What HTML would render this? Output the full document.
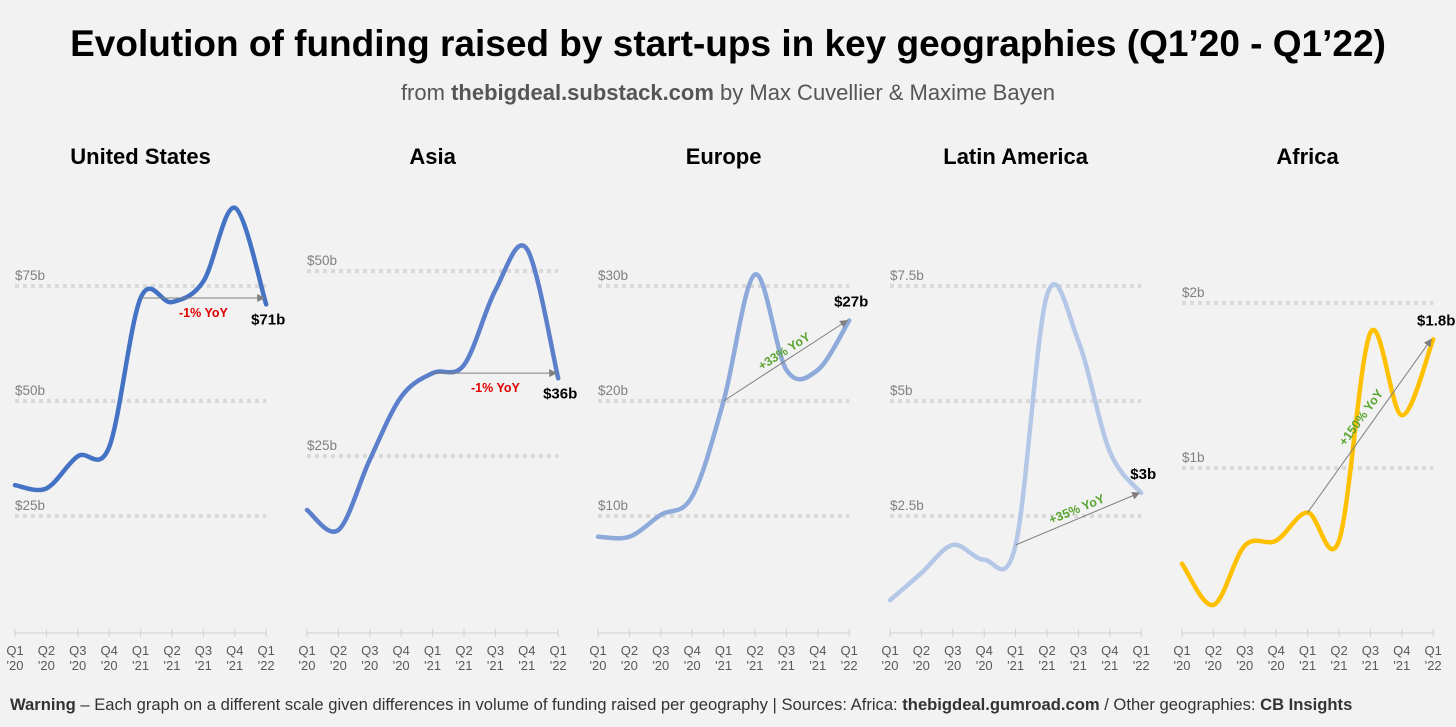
<!DOCTYPE html>
<html><head><meta charset="utf-8">
<style>
body{margin:0;background:#f2f2f2;}
svg{display:block;font-family:"Liberation Sans",sans-serif;}
</style></head>
<body>
<svg id="c" width="1456" height="727" viewBox="0 0 1456 727">
<rect width="1456" height="727" fill="#f2f2f2"/>
<text x="728" y="56" text-anchor="middle" font-size="37" font-weight="bold" fill="#000">Evolution of funding raised by start-ups in key geographies (Q1’20 - Q1’22)</text>
<text x="728" y="100" text-anchor="middle" font-size="22" fill="#555">from <tspan font-weight="bold">thebigdeal.substack.com</tspan> by Max Cuvellier &amp; Maxime Bayen</text>
<text x="10" y="710" font-size="16.6" fill="#333"><tspan font-weight="bold">Warning</tspan> – Each graph on a different scale given differences in volume of funding raised per geography  | Sources: Africa: <tspan font-weight="bold">thebigdeal.gumroad.com</tspan> / Other geographies: <tspan font-weight="bold">CB Insights</tspan></text>
<g id="panels"></g>
</svg>
<script>
const quarters = ["Q1|'20","Q2|'20","Q3|'20","Q4|'20","Q1|'21","Q2|'21","Q3|'21","Q4|'21","Q1|'22"];
const regions = ["United States","Asia","Europe","Latin America","Africa"];
const usValues = [31.7,31,38,40,72.4,71.5,76,92,71];
const asiaValues = [17.7,15,24.5,33,36.2,37.3,47.4,53,35.5];
const europeValues = [8.2,8.2,10.1,11.7,20,31,22.7,22.7,27];
const latamValues = [0.67,1.26,1.87,1.55,1.87,7.3,6.3,3.9,3.0];
const africaValues = [0.42,0.17,0.53,0.56,0.73,0.56,1.82,1.32,1.78];
const seriesValues = [usValues,asiaValues,europeValues,latamValues,africaValues];
const tickValues = [[25,50,75],[25,50],[10,20,30],[2.5,5,7.5],[1,2]];
const tickLabels = [["$25b","$50b","$75b"],["$25b","$50b"],["$10b","$20b","$30b"],["$2.5b","$5b","$7.5b"],["$1b","$2b"]];
const endLabels = ["$71b","$36b","$27b","$3b","$1.8b"];
const yoyLabels = ["-1% YoY","-1% YoY","+33% YoY","+35% YoY","+150% YoY"];

const colors=["#4472c4","#5b7fcb","#8eaadb","#b4c7e7","#ffc000"];
const x0s=[15,307,598,890,1182], step=31.4;
const scales=[[631,4.6],[641,7.4],[631,11.5],[631,46],[633,165]];
const NS="http://www.w3.org/2000/svg";
const root=document.getElementById('panels');
function mk(tag,attrs,parent){const e=document.createElementNS(NS,tag);for(const k in attrs)e.setAttribute(k,attrs[k]);(parent||root).appendChild(e);return e;}
function spline(pts){let d=`M${pts[0][0]},${pts[0][1]}`;for(let i=0;i<pts.length-1;i++){const p0=pts[Math.max(i-1,0)],p1=pts[i],p2=pts[i+1],p3=pts[Math.min(i+2,pts.length-1)];const t=6;d+=` C${p1[0]+(p2[0]-p0[0])/t},${p1[1]+(p2[1]-p0[1])/t} ${p2[0]-(p3[0]-p1[0])/t},${p2[1]-(p3[1]-p1[1])/t} ${p2[0]},${p2[1]}`;}return d;}
const defs=mk('defs',{});
const mkr=mk('marker',{id:'ah',markerWidth:8,markerHeight:8,refX:7,refY:4,orient:'auto',markerUnits:'userSpaceOnUse'},defs);
mk('path',{d:'M0,0 L8,4 L0,8 z',fill:'#7f7f7f'},mkr);

regions.forEach((r,p)=>{
  const g=mk('g',{});
  
  
  const xs=i=>x0s[p]+i*step;
  const ys=v=>scales[p][0]-v*scales[p][1];
  const t=mk('text',{x:xs(4),y:164,'text-anchor':'middle','font-size':22,'font-weight':'bold',fill:'#000'},g);
  t.textContent=r;
  
  
  tickValues[p].forEach((v,k)=>{
    const gl=mk('line',{x1:xs(0),x2:xs(8),y1:ys(v),y2:ys(v),stroke:'#d9d9d9','stroke-width':4,'stroke-dasharray':'4 4'},g);
    
    
    const tl=mk('text',{x:xs(0),y:ys(v)-6,'font-size':13.5,fill:'#808080'},g);
    tl.textContent=tickLabels[p][k];
    
    
  });
  const ax=mk('line',{x1:xs(0),x2:xs(8),y1:633,y2:633,stroke:'#d0d0d0','stroke-width':1},g);
  
  
  quarters.forEach((q,i)=>{
    mk('line',{x1:xs(i),x2:xs(i),y1:629,y2:637,stroke:'#d0d0d0'},g);
    const parts=q.split('|');
    const a=mk('text',{x:xs(i),y:655,'text-anchor':'middle','font-size':13,fill:'#595959'},g);
    a.textContent=parts[0];
    
    
    const b=mk('text',{x:xs(i),y:670,'text-anchor':'middle','font-size':13,fill:'#595959'},g);
    b.textContent=parts[1];
    
    
  });
  const vals=seriesValues[p];
  const pts=vals.map((v,i)=>[xs(i),ys(v)]);
  const ln=mk('path',{d:spline(pts),fill:'none',stroke:colors[p],'stroke-width':4.5,'stroke-linecap':'round'},g);
  
  
  const ax1=xs(4),ay1=ys(vals[4]),ax2=xs(8),ay2=(p<2)?ys(vals[4]):ys(vals[8]);
  const ar=mk('line',{x1:ax1,y1:ay1,x2:ax2-2,y2:ay2,stroke:'#7f7f7f','stroke-width':1,'marker-end':'url(#ah)'},g);
  
  
  const mx=(ax1+ax2)/2,my=(ay1+ay2)/2;
  const ang=Math.atan2(ay2-ay1,ax2-ax1)*180/Math.PI;
  const yl=mk('text',{'text-anchor':'middle','font-size':12.5,'font-weight':'bold',fill:p<2?'#e00000':'#5aa532',transform:p<2?`translate(${mx},${my+19})`:`translate(${mx+(p==4?-6:0)},${my-6}) rotate(${ang})`},g);
  yl.textContent=yoyLabels[p];
  
  
  const el=mk('text',{x:xs(8)+(p==4?3:2),y:p<2?ys(vals[8])+20:ys(vals[8])-14,'text-anchor':'middle','font-size':15,'font-weight':'bold',fill:'#000'},g);
  el.textContent=endLabels[p];
  
  
});
</script>
</body></html>
